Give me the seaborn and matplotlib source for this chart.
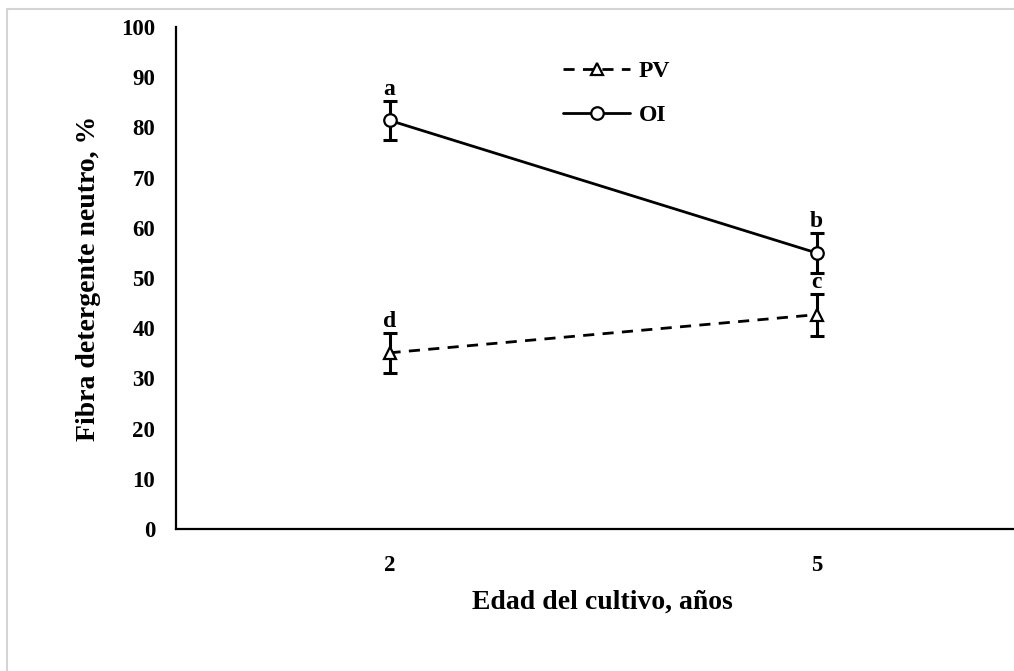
import matplotlib
matplotlib.use("Agg")
import matplotlib.pyplot as plt
import seaborn as sns
import pandas as pd
from matplotlib.lines import Line2D

# Neutral detergent fibre by crop age for two systems
ages = ["2", "5"]
pv_mean = [35.1, 42.7]
pv_err = [4.0, 4.2]
oi_mean = [81.4, 55.0]
oi_err = [3.9, 4.0]
pv_letters = ["d", "c"]
oi_letters = ["a", "b"]
y_ticks = list(range(0, 101, 10))

sns.set_theme(style="white")
plt.rcParams["font.family"] = ["Liberation Serif", "DejaVu Serif"]
plt.rcParams["font.weight"] = "bold"
plt.rcParams["text.color"] = "black"
plt.rcParams["axes.labelcolor"] = "black"
plt.rcParams["xtick.color"] = "black"
plt.rcParams["ytick.color"] = "black"

df = pd.DataFrame({
    "edad": ages * 2,
    "serie": ["PV"] * len(ages) + ["OI"] * len(ages),
    "fdn": pv_mean + oi_mean,
    "err": pv_err + oi_err,
    "letra": pv_letters + oi_letters,
})
df["pos"] = df["edad"].map({a: i for i, a in enumerate(ages)})

W, H = 1014, 671
fig = plt.figure(figsize=(W / 100, H / 100), dpi=100)
fig.patch.set_facecolor("white")

# plot area runs past the right edge of the canvas
ax = fig.add_axes([176 / W, 142 / H, 854 / W, 502 / H])

for serie, sub in df.groupby("serie", sort=False):
    ax.errorbar(sub["pos"], sub["fdn"], yerr=sub["err"], fmt="none",
                ecolor="black", elinewidth=2.2, capsize=5, capthick=2.2,
                zorder=2)

sns.lineplot(data=df, x="pos", y="fdn", style="serie",
             markers={"PV": "^", "OI": "o"},
             dashes={"PV": (4, 3), "OI": ""},
             color="black", lw=2, markersize=9,
             markerfacecolor="white", markeredgecolor="black",
             markeredgewidth=1.6, legend=False, ax=ax, zorder=3)

for _, row in df.iterrows():
    ax.annotate(row["letra"], (row["pos"], row["fdn"] + row["err"]),
                xytext=(0, 0.5), textcoords="offset points",
                ha="center", va="bottom", fontsize=17, fontweight="bold",
                color="black")

ax.set_xlim(-0.5, 1.5)
ax.set_ylim(0, 100)
ax.set_xticks(range(len(ages)))
ax.set_xticklabels(ages)
ax.set_yticks(y_ticks)
ax.tick_params(axis="both", length=0, labelsize=16.5, colors="black")
ax.tick_params(axis="y", pad=15)
ax.tick_params(axis="x", pad=19)
for lab in ax.get_xticklabels() + ax.get_yticklabels():
    lab.set_fontweight("bold")

for side in ["top", "right"]:
    ax.spines[side].set_visible(False)
for side in ["left", "bottom"]:
    ax.spines[side].set_color("black")
    ax.spines[side].set_linewidth(1.6)

ax.set_xlabel("Edad del cultivo, años", fontsize=20, fontweight="bold")
ax.set_ylabel("Fibra detergente neutro, %", fontsize=20, fontweight="bold")
ax.xaxis.set_label_coords(0.4988, -0.1454)
ax.xaxis.label.set_va("center")
ax.yaxis.set_label_coords(-0.103, 0.5)
ax.yaxis.label.set_va("center")

handles = [
    Line2D([], [], color="black", lw=2, dashes=(4, 3), marker="^", ms=9,
           mfc="white", mec="black", mew=1.6),
    Line2D([], [], color="black", lw=2, marker="o", ms=9,
           mfc="white", mec="black", mew=1.6),
]
fig.legend(handles, ["PV", "OI"], loc="center left",
           bbox_to_anchor=(563 / W, 1 - 93.5 / H), frameon=False,
           borderpad=0, borderaxespad=0, handlelength=2.85,
           handletextpad=0.35, labelspacing=0.95,
           prop={"size": 17, "weight": "bold"})

# thin grey frame around the chart area
frame_kw = dict(color="#d4d4d4", lw=1.5, transform=fig.transFigure)
fig.add_artist(Line2D([7 / W, 1], [1 - 9 / H, 1 - 9 / H], **frame_kw))
fig.add_artist(Line2D([7 / W, 7 / W], [0, 1 - 9 / H], **frame_kw))

fig.savefig("out.png", dpi=100, facecolor="white")
